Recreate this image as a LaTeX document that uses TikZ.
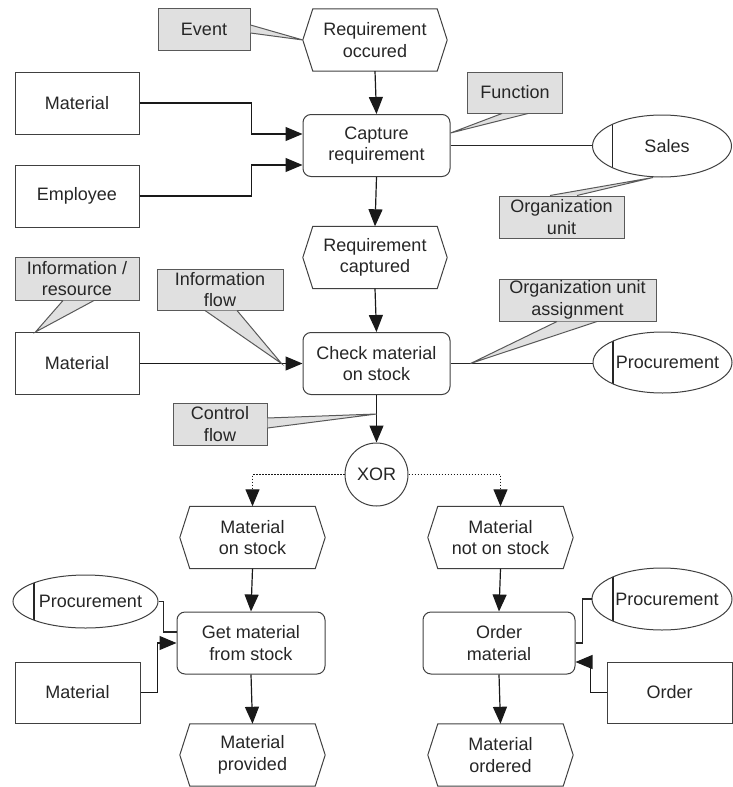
\documentclass[tikz,border=0pt]{standalone}
\usepackage{fontspec}
\setmainfont{Liberation Sans}
\usetikzlibrary{arrows.meta,shapes.geometric,calc}

\tikzset{
  ln/.style={draw=black!85, line width=1.2pt},
  box/.style={draw=black!75, line width=1pt},
  arr/.style={draw=black!90, line width=1.2pt, -{Triangle[length=17pt,width=14pt]}},
  dots/.style={dash pattern=on 1.3pt off 1.7pt},
  txt/.style={font=\fontsize{18}{21.5}\selectfont, text=black!85, align=center},
  fn/.style={txt, box, rounded corners=8pt, minimum width=147pt, minimum height=62pt, inner sep=0pt},
  obj/.style={txt, box, minimum width=124pt, minimum height=62pt, inner sep=0pt},
  evt/.style={txt, minimum width=144pt, minimum height=62pt, inner sep=0pt},
  org/.style={ellipse, box, minimum width=139pt, minimum height=62pt, inner sep=0pt,
    path picture={\draw[ln] ([xshift=20pt,yshift=40pt]path picture bounding box.west)
                         -- ([xshift=20pt,yshift=-40pt]path picture bounding box.west);}},
  orgtext/.style={txt, xshift=5pt},
  note/.style={txt, draw=black!65, fill=black!12, line width=1pt, inner sep=0pt},
  tail/.style={draw=black!65, fill=black!12, line width=1pt, line join=miter},
  xorc/.style={txt, circle, box, minimum size=63pt, inner sep=0pt},
}

% hexagonal event outline around a node
\newcommand{\drawevent}[1]{%
  \draw[box] ([xshift=10pt]#1.north west) -- ([xshift=-10pt]#1.north east) -- (#1.east)
    -- ([xshift=-10pt]#1.south east) -- ([xshift=10pt]#1.south west) -- (#1.west) -- cycle;}

\begin{document}
\begin{tikzpicture}[x=1pt, y=-1pt]
\useasboundingbox (0,0) rectangle (732,787);

% ---------- events ----------
\node[evt] (req1) at (375,40) {Requirement\\occured};
\node[evt] (req2) at (375,257.5) {Requirement\\captured};
\node[evt, minimum width=145pt] (mos) at (252.5,537.5) {Material\\on stock};
\node[evt, minimum width=145pt] (mnos) at (500.5,537.5) {Material\\not on stock};
\node[evt, minimum width=145pt] (mprov) at (252.5,755) {Material\\provided};
\node[evt, minimum width=145pt] (mord) at (500.5,755) {Material\\ordered};
\foreach \e in {req1,req2,mos,mnos,mprov,mord} {\drawevent{\e}}

% ---------- functions ----------
\node[fn] (cap) at (376.5,145.5) {Capture\\requirement};
\node[fn] (check) at (376.5,363.5) {Check material\\on stock};
\node[fn, minimum width=148pt] (get) at (251,643) {Get material\\from stock};
\node[fn, minimum width=152pt] (ord) at (499,643) {Order\\material};

% ---------- information objects ----------
\node[obj] (mat1) at (77,103) {Material};
\node[obj] (emp) at (77,196) {Employee};
\node[obj] (mat2) at (77,363.5) {Material};
\node[obj, minimum width=125pt, minimum height=61pt] (mat3) at (77.5,692.5) {Material};
\node[obj, minimum width=125pt, minimum height=61pt] (orderobj) at (669.5,692.5) {Order};

% ---------- organization units ----------
\node[org, label={[orgtext]center:Sales}] (sales) at (662,146) {};
\node[org, minimum height=61pt, label={[orgtext]center:Procurement}] (proc1) at (662.5,362.5) {};
\node[org, minimum width=145pt, minimum height=53pt,
      path picture={\draw[ln] ([xshift=21pt,yshift=40pt]path picture bounding box.west)
                           -- ([xshift=21pt,yshift=-40pt]path picture bounding box.west);},
      label={[orgtext]center:Procurement}] (proc2) at (85.5,601.5) {};
\node[org, minimum width=140pt,
      path picture={\draw[ln] ([xshift=21pt,yshift=40pt]path picture bounding box.west)
                           -- ([xshift=21pt,yshift=-40pt]path picture bounding box.west);},
      label={[orgtext]center:Procurement}] (proc3) at (662,599) {};

% ---------- connector ----------
\node[xorc] (xor) at (376.5,474.5) {XOR};

% ---------- control flow ----------
\draw[arr] (req1.south) -- (cap.north);
\draw[arr] (cap.south) -- (req2.north);
\draw[arr] (req2.south) -- (check.north);
\draw[arr] (check.south) -- (xor.north);
\draw[arr, dots] (xor.west) -| (mos.north);
\draw[arr, dots] (xor.east) -| (mnos.north);
\draw[arr] (mos.south) -- (get.north);
\draw[arr] (get.south) -- (mprov.north);
\draw[arr] (mnos.south) -- (ord.north);
\draw[arr] (ord.south) -- (mord.north);

% ---------- information flow ----------
\draw[arr] (mat1.east) -- ++(112,0) |- ([yshift=11.5pt]cap.west);
\draw[arr] (emp.east) -- ++(112,0) |- ([yshift=-19.5pt]cap.west);
\draw[arr] (mat2.east) -- (check.west);
\draw[arr] (mat3.east) -- ++(17,0) |- (get.west);
\draw[arr] (orderobj.west) -- ++(-16,0) |- ([yshift=-19pt]ord.east);

% ---------- organization unit assignments ----------
\draw[ln] (cap.east) -- (cap.east -| sales.west);
\draw[ln] (check.east) -- (check.east -| proc1.west);
\draw[ln] (proc2.east) -- ++(5,0) |- ([yshift=11pt]get.west);
\draw[ln] (proc3.west) -- ++(-9,0) |- (ord.east);

% ---------- annotation callouts ----------
\node[note, minimum width=92pt, minimum height=42pt] (evnote) at (204,29.5) {Event};
\filldraw[tail] ([yshift=4.5pt]evnote.east) -- (req1.west) -- ([yshift=-3.5pt]evnote.east);

\node[note, minimum width=95pt, minimum height=41pt] (fnote) at (515,92.5) {Function};
\filldraw[tail] ([xshift=-13pt]fnote.south) -- ([yshift=12.5pt]cap.east) -- ([xshift=13pt]fnote.south);

\node[note, minimum width=125pt, minimum height=42pt] (ounote) at (561.5,217) {Organization\\unit};
\filldraw[tail] ([xshift=-11.5pt]ounote.north) -- ([xshift=-9pt]sales.south) -- ([xshift=15.5pt]ounote.north);

\node[note, minimum width=124pt, minimum height=43pt] (irnote) at (77,278.5) {Information /\\resource};
\filldraw[tail] ([xshift=-14pt]irnote.south) -- ([xshift=21pt]mat2.north west) -- ([xshift=17pt]irnote.south);

\coordinate (iftip) at ([xshift=-21pt]check.west);
\node[note, minimum width=126pt, minimum height=41pt] (ifnote) at (220,289.5) {Information\\flow};
\filldraw[tail] ([xshift=-15pt]ifnote.south) -- (iftip) -- ([xshift=17pt]ifnote.south);

\node[note, minimum width=157pt, minimum height=42pt] (oanote) at (577.5,300) {Organization unit\\assignment};
\filldraw[tail] ([xshift=-20.5pt]oanote.south) -- ([xshift=20pt]check.east) -- ([xshift=19.5pt]oanote.south);

\coordinate (cftip) at ([yshift=-19pt]check.south);
\node[note, minimum width=94pt, minimum height=42pt] (cfnote) at (220,424) {Control\\flow};
\filldraw[tail] ([yshift=6pt]cfnote.east) -- (cftip) -- ([yshift=-4pt]cfnote.east);

\end{tikzpicture}
\end{document}
